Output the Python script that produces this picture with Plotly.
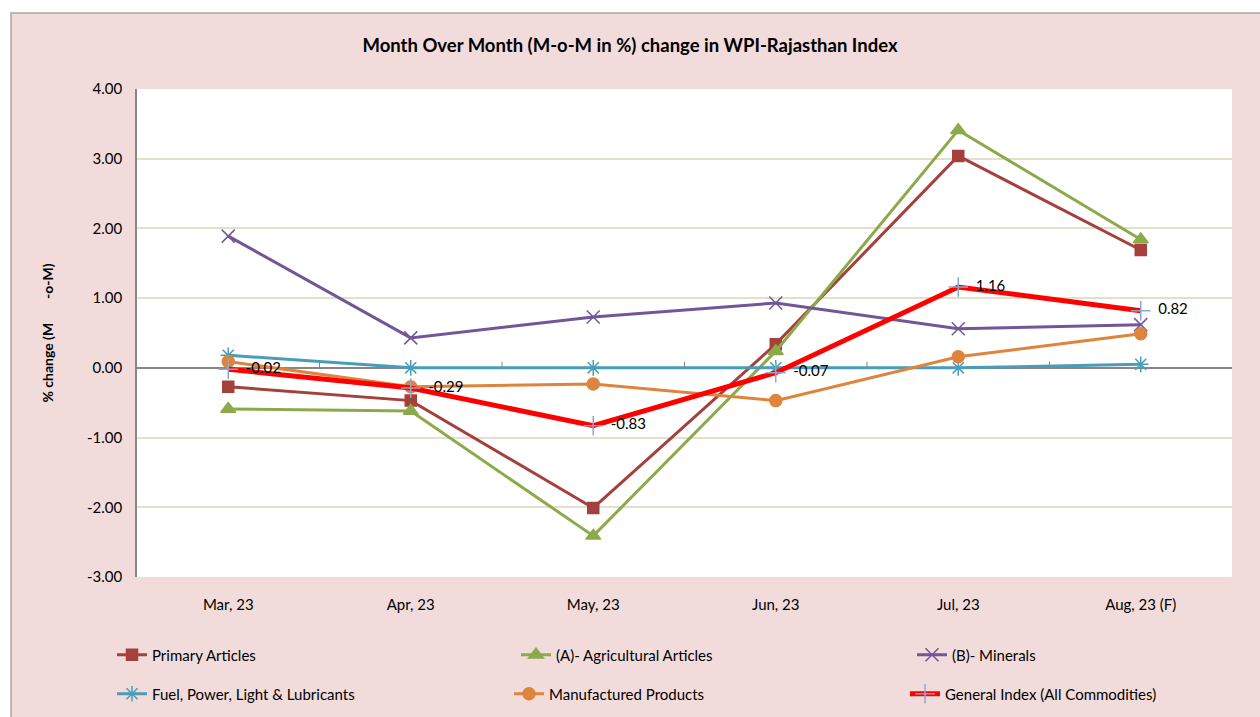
import plotly.graph_objects as go

months = ["Mar, 23", "Apr, 23", "May, 23", "Jun, 23", "Jul, 23", "Aug, 23 (F)"]
primary = [-0.27, -0.47, -2.01, 0.34, 3.04, 1.69]
agri = [-0.59, -0.62, -2.41, 0.24, 3.41, 1.84]
minerals = [1.89, 0.43, 0.73, 0.93, 0.56, 0.62]
fuel = [0.18, 0.00, 0.00, 0.00, 0.00, 0.05]
manuf = [0.09, -0.27, -0.23, -0.47, 0.16, 0.49]
general = [-0.02, -0.29, -0.83, -0.07, 1.16, 0.82]
y_ticks = [4, 3, 2, 1, 0, -1, -2, -3]

FONT = "Lato, Open Sans, sans-serif"
W, H = 1260, 717
L, R, T, B = 137, 28, 89, 140
PW, PH = W - L - R, H - T - B


def px_x(p):
    return (p - L) / PW


def px_y(p):
    return (H - B - p) / PH


fig = go.Figure()

series = [
    ("Primary Articles", primary, "#A5413D", "square", 11, 3),
    ("(A)- Agricultural Articles", agri, "#8CAA4C", "triangle-up", 13, 3),
    ("(B)- Minerals", minerals, "#715797", "x-thin-open", 13, 3),
    ("Fuel, Power, Light & Lubricants", fuel, "#4A9DB8", "asterisk-open", 13, 3),
    ("Manufactured Products", manuf, "#DE843C", "circle", 12, 3),
]
legend_ids = ["legend", "legend2", "legend3", "legend4", "legend5", "legend6"]
# legend item text start x (px) and row y (px)
legend_pos = [(152, 655), (556, 655), (952, 655), (152, 694), (549, 694), (945, 694)]

for k, (name, vals, col, sym, size, lw) in enumerate(series):
    fig.add_trace(go.Scatter(
        x=months, y=vals, name=name, mode="lines+markers",
        line=dict(color=col, width=lw),
        marker=dict(symbol=sym, size=size, color=col, line=dict(color=col, width=1.5)),
        legend=legend_ids[k],
    ))

fig.add_trace(go.Scatter(
    x=months, y=general, name="General Index (All Commodities)", mode="lines+markers+text",
    line=dict(color="#FF0000", width=5),
    marker=dict(symbol="cross-thin-open", size=14, color="#8EA6D0", line=dict(color="#8EA6D0", width=1.5)),
    text=["  " + f"{v:.2f}" for v in general], textposition="middle right",
    textfont=dict(family=FONT, size=15, color="#000000"),
    legend=legend_ids[5],
))

shapes = [
    dict(type="rect", xref="paper", yref="paper", x0=px_x(11), x1=px_x(1262), y0=px_y(13), y1=px_y(719),
         fillcolor="#F2DCDB", line=dict(color="#A6A6A6", width=1.5), layer="below"),
    dict(type="rect", xref="paper", yref="paper", x0=0, x1=1, y0=0, y1=1,
         fillcolor="#FFFFFF", line=dict(width=0), layer="below"),
]
for i in range(len(months) - 1):
    shapes.append(dict(type="line", xref="x", yref="y", x0=i + 0.5, x1=i + 0.5, y0=0, y1=0.09,
                       line=dict(color="#868686", width=1)))

layout_legends = {}
for lid, (tx, ty) in zip(legend_ids, legend_pos):
    layout_legends[lid] = dict(
        orientation="h", x=px_x(tx - 40), xanchor="left", y=px_y(ty), yanchor="middle",
        bgcolor="rgba(0,0,0,0)", font=dict(family=FONT, size=15), itemwidth=30,
    )

fig.update_layout(
    width=W, height=H,
    margin=dict(l=L, r=R, t=T, b=B, autoexpand=False),
    paper_bgcolor="#FFFFFF", plot_bgcolor="rgba(0,0,0,0)",
    font=dict(family=FONT, size=15, color="#000000"),
    title=dict(text="<b>Month Over Month (M-o-M in %) change in WPI-Rajasthan Index</b>",
               x=0.5, xref="container", xanchor="center", y=1 - 46 / H, yanchor="middle",
               font=dict(family=FONT, size=18.5, color="#000000")),
    xaxis=dict(type="category", range=[-0.5, len(months) - 0.5], showgrid=False, zeroline=False,
               showline=False, ticks="", tickfont=dict(family=FONT, size=15), ticklabelstandoff=17,
               automargin=False),
    yaxis=dict(range=[-3, 4], tickvals=y_ticks, ticktext=[f"{v:.2f}" for v in y_ticks],
               showgrid=True, gridcolor="#E4DFCB", gridwidth=1.5,
               zeroline=True, zerolinecolor="#868686", zerolinewidth=1.5,
               showline=True, linecolor="#868686", linewidth=1.5, ticks="",
               tickfont=dict(family=FONT, size=15), ticklabelstandoff=10, automargin=False,
               title=dict(text="<b>% change (M       -o-M)</b>", font=dict(family=FONT, size=14), standoff=30)),
    shapes=shapes,
    showlegend=True,
    **layout_legends,
)

fig.write_html("out.html", config={"displayModeBar": False},
               post_script="document.body.style.margin='0';")
